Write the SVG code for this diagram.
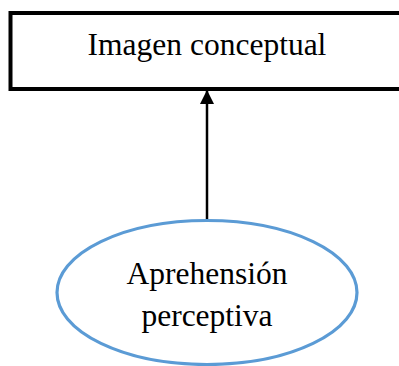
<svg xmlns="http://www.w3.org/2000/svg" width="399" height="366" viewBox="0 0 399 366">
  <defs>
    <marker id="arrowhead" viewBox="0 0 10 10" refX="10" refY="5" markerWidth="5.6" markerHeight="6" markerUnits="strokeWidth" orient="auto">
      <path d="M0,0 L10,5 L0,10 Z" fill="#000"/>
    </marker>
  </defs>
  <style>
    .label { font-family: "Liberation Serif", "Times New Roman", serif; font-size: 31.5px; fill: #000; text-anchor: middle; }
  </style>
  <rect width="399" height="366" fill="#fff"/>
  <g id="connectors">
    <line x1="207" y1="220" x2="207" y2="90" stroke="#000" stroke-width="2.5" marker-end="url(#arrowhead)"/>
  </g>
  <g id="imagen-conceptual">
    <rect x="10.5" y="13" width="400" height="76" fill="#fff" stroke="#000" stroke-width="4"/>
    <text class="label" x="207" y="55">Imagen conceptual</text>
  </g>
  <g id="aprehension-perceptiva">
    <ellipse cx="207" cy="292.5" rx="150" ry="72" fill="#fff" stroke="#5B9BD5" stroke-width="3.2"/>
    <text class="label" x="207" y="284">Aprehensión</text>
    <text class="label" x="207" y="326">perceptiva</text>
  </g>
</svg>
